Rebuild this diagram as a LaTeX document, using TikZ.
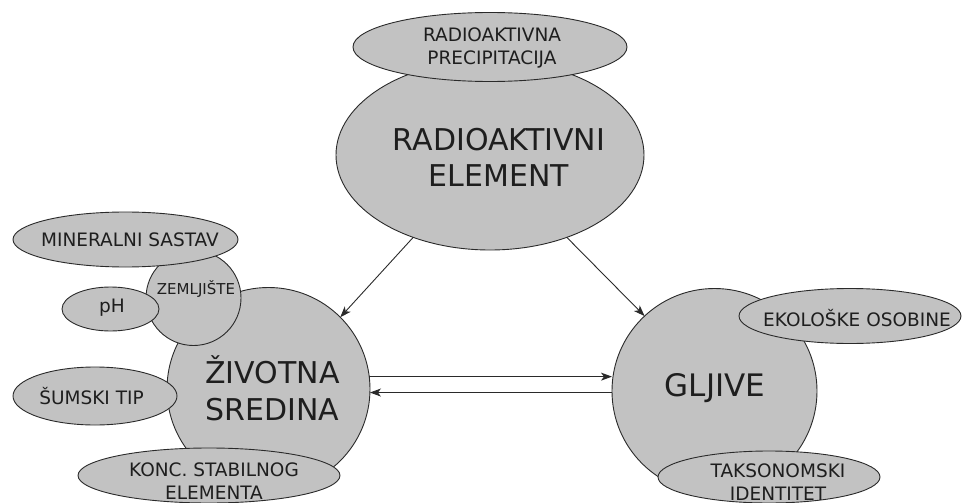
\documentclass[tikz,border=0pt]{standalone}
\usepackage{fontspec}
\setmainfont{DejaVu Sans}
\usetikzlibrary{shapes.geometric,arrows.meta}
\definecolor{bubble}{HTML}{C2C2C2}
\definecolor{edge}{HTML}{2A2A2A}
\definecolor{ink}{HTML}{1E1E1E}
\begin{document}
\begin{tikzpicture}[x=1pt,y=-1pt,
  bub/.style={ellipse,draw=edge,fill=bubble,line width=0.9pt,inner sep=0pt,outer sep=0pt},
  ball/.style={circle,draw=edge,fill=bubble,line width=0.9pt,inner sep=0pt,outer sep=0pt},
  big/.style={text=ink,align=center,inner sep=0pt,font=\fontsize{30}{36}\selectfont},
  small/.style={text=ink,align=center,inner sep=0pt,font=\fontsize{18.5}{22.5}\selectfont},
  arr/.style={draw=edge,line width=0.9pt,-{Stealth[length=11pt,width=8pt,inset=3pt]}}]
\useasboundingbox (0,0) rectangle (962,503);
% top
\node[bub,minimum width=308pt,minimum height=190pt] (el) at (490,155) {};
\node[big] (elT) at (499,157) {RADIOAKTIVNI\\ELEMENT};
\node[bub,minimum width=274pt,minimum height=69pt] (prec) at (490,47) {};
\node[small] (precT) at (492,48) {RADIOAKTIVNA\\PRECIPITACIJA};
% left
\node[ball,minimum size=203pt] (ziv) at (268.5,389) {};
\node[big,font=\fontsize{30}{37}\selectfont] (zivT) at (272.5,388) {ŽIVOTNA\\SREDINA};
\node[ball,minimum size=95pt] (zem) at (193.5,298) {};
\node[small,font=\fontsize{15}{18}\selectfont] (zemT) at (196,289) {ZEMLJIŠTE};
\node[bub,minimum width=225pt,minimum height=55pt] (min) at (125.5,239.5) {};
\node[small] (minT) at (130,240) {MINERALNI SASTAV};
\node[bub,minimum width=97pt,minimum height=44pt] (ph) at (110.5,309) {};
\node[small] (phT) at (112,308) {pH};
\node[bub,minimum width=164pt,minimum height=58pt] (sum) at (95,396) {};
\node[small] (sumT) at (91.5,396) {ŠUMSKI TIP};
\node[bub,minimum width=262pt,minimum height=55pt] (konc) at (209,475.5) {};
\node[small] (koncT) at (214,481) {KONC. STABILNOG\\ELEMENTA};
% right
\node[ball,minimum size=205pt] (glj) at (714.5,391) {};
\node[big,font=\fontsize{31}{36}\selectfont] (gljT) at (715,388) {GLJIVE};
\node[bub,minimum width=222pt,minimum height=55pt] (eko) at (850,316) {};
\node[small] (ekoT) at (857,318) {EKOLOŠKE OSOBINE};
\node[bub,minimum width=222pt,minimum height=52pt] (tak) at (769,477) {};
\node[small] (takT) at (778,482) {TAKSONOMSKI\\IDENTITET};
% connectors
\draw[arr] (el.227) -- (ziv.45);
\draw[arr] (el.313.6) -- (glj.133);
\draw[arr] (ziv.7) -- (ziv.7 -| glj.west);
\draw[arr] (glj.west |- ziv.-2) -- (ziv.-2);
\end{tikzpicture}
\end{document}
